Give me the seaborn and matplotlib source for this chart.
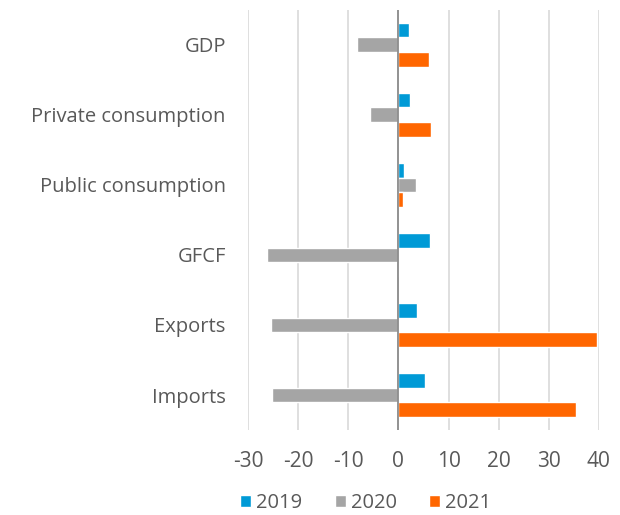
import numpy as np
import pandas as pd
import matplotlib
matplotlib.use('Agg')
import matplotlib.pyplot as plt
import seaborn as sns

categories = ['GDP', 'Private consumption', 'Public consumption', 'GFCF', 'Exports', 'Imports']
years = ['2019', '2020', '2021']
v2019 = [2.2, 2.3, 1.1, 6.3, 3.8, 5.3]
v2020 = [-8.2, -5.6, 3.5, -26.3, -25.5, -25.3]
v2021 = [6.2, 6.5, 1.0, 0.0, 39.7, 35.5]
colors = ['#009ad6', '#a5a5a5', '#ff6600']

df = pd.DataFrame({
    'category': categories * 3,
    'year': [y for y in years for _ in categories],
    'value': v2019 + v2020 + v2021,
})

sns.set_style('white')
plt.rcParams['font.family'] = ['Open Sans', 'DejaVu Sans']
plt.rcParams['axes.unicode_minus'] = False
txt = '#595959'

fig = plt.figure(figsize=(6.2, 5.15), dpi=100)
ax = fig.add_axes([0.40, 0.165, 0.566, 0.816])

sns.barplot(data=df, x='value', y='category', hue='year', order=categories,
            hue_order=years, palette=colors, saturation=1, width=0.63, ax=ax, legend=True)

ax.set_xlim(-30, 40)
ax.set_xticks(np.arange(-30, 41, 10))
ax.grid(axis='x', color='#d9d9d9', linewidth=1.2)
ax.set_axisbelow(True)
ax.axvline(0, color='#8c8c8c', linewidth=1.3, zorder=3)
for s in ax.spines.values():
    s.set_visible(False)
ax.set_xlabel('')
ax.set_ylabel('')
ax.tick_params(axis='x', length=0, pad=15, labelsize=15, labelcolor=txt)
ax.tick_params(axis='y', length=0, pad=16, labelsize=14.5, labelcolor=txt)

handles, labels = ax.get_legend_handles_labels()
ax.get_legend().remove()
fig.legend(handles, labels, loc='lower center', bbox_to_anchor=(0.59, -0.032), ncol=3,
           frameon=False, fontsize=14.5, labelcolor=txt, handlelength=0.55, handleheight=0.55,
           handletextpad=0.25, columnspacing=1.6)

fig.savefig('out.png', dpi=100)
